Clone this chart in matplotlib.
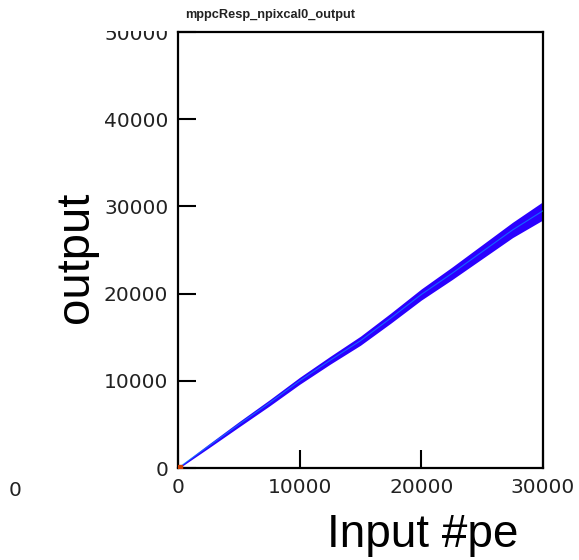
import matplotlib.pyplot as plt
from matplotlib.patches import Rectangle

# band (input #pe -> output)
input_pe = [0, 2500, 5000, 7500, 10000, 12500, 15000, 17500, 20000, 22500, 25000, 27500, 30000]
out_center = [0, 2500, 5000, 7450, 10000, 12350, 14600, 17200, 19900, 22300, 24800, 27300, 29500]
out_half = [100, 220, 300, 350, 400, 450, 520, 580, 640, 720, 800, 880, 1050]

x_ticks = [0, 10000, 20000, 30000]
y_ticks = [0, 10000, 20000, 30000, 40000, 50000]

W, H = 579, 560
fig = plt.figure(figsize=(W / 100, H / 100), dpi=100)
ax = fig.add_axes([178 / W, 1 - 468 / H, (543 - 178) / W, (468 - 32) / H])

lo = [c - h for c, h in zip(out_center, out_half)]
hi = [c + h for c, h in zip(out_center, out_half)]
ax.fill_between(input_pe, lo, hi, color='#2a00ff', lw=0, zorder=2)
ax.plot(input_pe, out_center, color='#00c8ff', lw=0.8, alpha=0.5, zorder=3)
ax.plot([150], [150], 's', color='#d04000', ms=3, zorder=4)

ax.set_xlim(0, 30000)
ax.set_ylim(0, 50000)
ax.set_xticks(x_ticks)
ax.set_yticks(y_ticks)
ax.set_xticklabels([str(v) for v in x_ticks])
ax.set_yticklabels([str(v) for v in y_ticks])
ax.tick_params(direction='in', length=13, width=1.5, labelsize=14.5,
               labelcolor='#222222', pad=7)
for lab in ax.get_xticklabels() + ax.get_yticklabels():
    lab.set_family('DejaVu Sans')
for s in ax.spines.values():
    s.set_linewidth(1.6)

# ROOT title pave hides the top of the "50000" label
fig.add_artist(Rectangle((90 / W, 1 - 31 / H), 86 / W, 31 / H,
                         transform=fig.transFigure, facecolor='white',
                         edgecolor='none', zorder=5))
fig.text(270 / W, 1 - 15 / H, 'mppcResp_npixcal0_output', ha='center', va='center',
         fontsize=9.2, fontweight='bold', family='Liberation Sans', color='#222222', zorder=6)

fig.text(423 / W, 1 - 535 / H, 'Input #pe', ha='center', va='center',
         fontsize=33, family='Liberation Sans')
fig.text(76 / W, 1 - 257 / H, 'output', ha='center', va='center', rotation=90,
         fontsize=34, family='Liberation Sans')
fig.text(15 / W, 1 - 490 / H, '0', ha='center', va='center',
         fontsize=14.5, family='DejaVu Sans', color='#222222')

fig.savefig('out.png', dpi=100)
